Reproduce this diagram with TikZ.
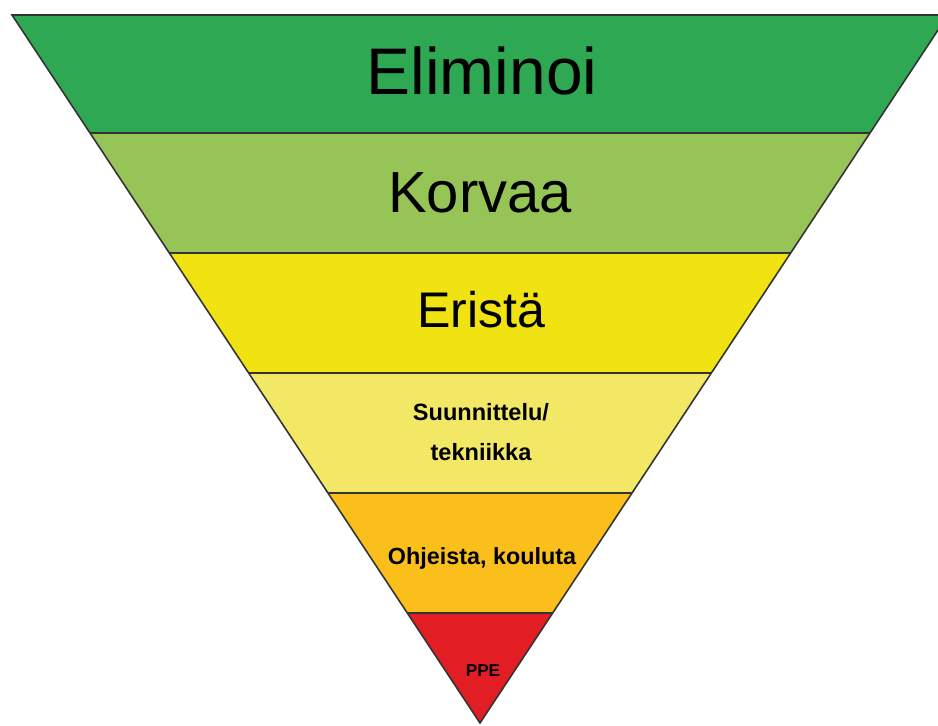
\documentclass[tikz,border=0pt]{standalone}
\usepackage{fontspec}
\setmainfont{Liberation Sans}
\usepackage{xcolor}
\usetikzlibrary{calc}
\definecolor{tierone}{HTML}{2EA852}
\definecolor{tiertwo}{HTML}{97C457}
\definecolor{tierthree}{HTML}{F0E311}
\definecolor{tierfour}{HTML}{F2E865}
\definecolor{tierfive}{HTML}{FBBF1B}
\definecolor{tiersix}{HTML}{E21D23}
\tikzset{
  tier label/.style={anchor=base,text=black,inner sep=0pt},
  tier line/.style={draw=black!80,line width=0.9pt,line join=miter}
}

\begin{document}
\begin{tikzpicture}[x=0.02cm,y=-0.02cm]
	\useasboundingbox (0,0) rectangle (938,726);
	\coordinate (L) at (12,15);
	\coordinate (R) at (948,15);
	\coordinate (A) at (480,723);
	
	% band borders
	\foreach \y [count=\i] in {133,253,373,493,613}{
		\pgfmathsetmacro\t{(\y-15)/708}
		\coordinate (l\i) at ($(L)!\t!(A)$);
		\coordinate (r\i) at ($(R)!\t!(A)$);
	}
	
	\fill[tierone](L)--(R)--(r1)--(l1)--cycle;
	\fill[tiertwo](l1)--(r1)--(r2)--(l2)--cycle;
	\fill[tierthree](l2)--(r2)--(r3)--(l3)--cycle;
	\fill[tierfour](l3)--(r3)--(r4)--(l4)--cycle;
	\fill[tierfive](l4)--(r4)--(r5)--(l5)--cycle;
	\fill[tiersix](l5)--(r5)--(A)--cycle;
	
	\draw[tier line](L)--(R)--(A)--cycle
	(l1)--(r1)(l2)--(r2)(l3)--(r3)(l4)--(r4)(l5)--(r5);
	
	\node[tier label,font=\fontsize{37.5}{40}\selectfont](eliminoi) at (482,95){Eliminoi};
	\node[tier label,font=\fontsize{33}{36}\selectfont](korvaa) at (480,213){Korvaa};
	\node[tier label,font=\fontsize{28.5}{31}\selectfont](erista) at (481,328){Eristä};
	\node[tier label,anchor=center,align=center,font=\bfseries\fontsize{13.4}{23.2}\selectfont](suunnittelu) at (481,432){Suunnittelu/\\tekniikka};
	\node[tier label,font=\bfseries\fontsize{13.3}{15}\selectfont](ohjeista) at (482,565){Ohjeista, kouluta};
	\node[tier label,font=\bfseries\fontsize{9.8}{11}\selectfont](ppe) at (483,677){PPE};
\end{tikzpicture}
\end{document}
